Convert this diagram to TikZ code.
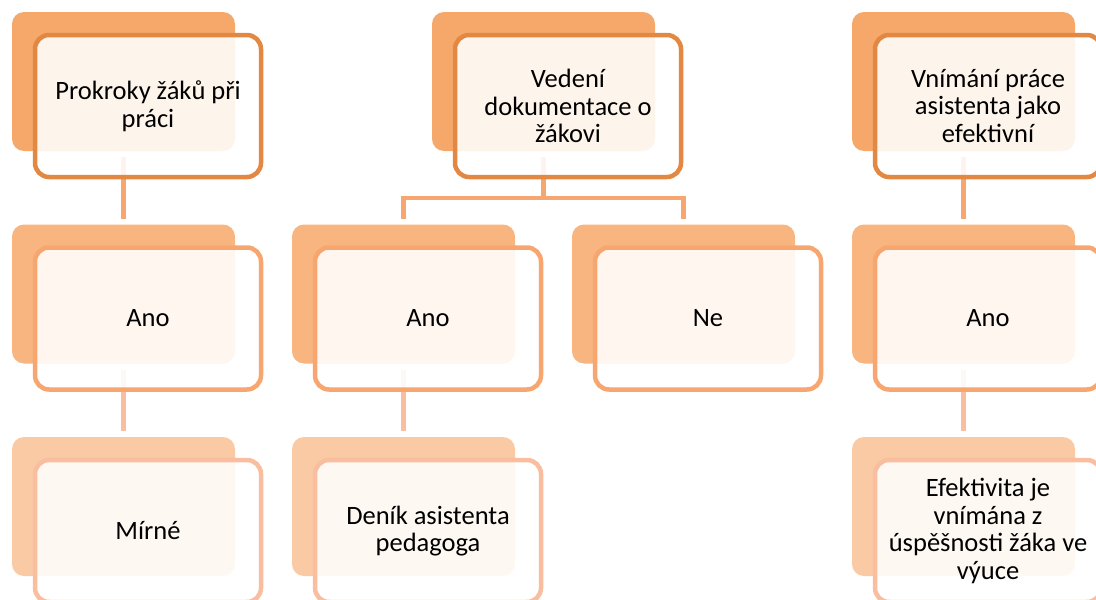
\documentclass[tikz,border=0pt]{standalone}
\usepackage{fontspec}
\setmainfont{Carlito}
\usetikzlibrary{positioning,calc}
\pgfdeclarelayer{background}
\pgfsetlayers{background,main}
\definecolor{oneBack}{RGB}{246,168,106}
\definecolor{oneLine}{RGB}{226,136,66}
\definecolor{twoBack}{RGB}{248,181,128}
\definecolor{twoLine}{RGB}{247,166,112}
\definecolor{threeBack}{RGB}{249,202,164}
\definecolor{threeLine}{RGB}{249,190,160}
\tikzset{
  backbox/.style={rectangle, rounded corners=12pt, minimum width=223pt, minimum height=139pt, anchor=north west, inner sep=0pt, outer sep=0pt},
  frontbox/.style={rectangle, rounded corners=14pt, minimum width=226pt, minimum height=142pt, anchor=north west, line width=4.5pt, outer sep=0pt, fill=white, fill opacity=0.88, text opacity=1, align=center, font=\fontsize{26.5pt}{27.6pt}\selectfont, inner sep=0pt},
  lone/.style={fill=oneBack},
  ltwo/.style={fill=twoBack},
  lthree/.style={fill=threeBack},
  conn/.style={line width=4.5pt, shorten <=6pt, shorten >=6pt},
}
\begin{document}
\begin{tikzpicture}[x=1pt,y=1pt]
\useasboundingbox (0,0) rectangle (1096,-600);
\clip (0,0) rectangle (1096,-600);
% column 1
\node[backbox, lone] (b11) at (12,-12) {};
\node[frontbox, draw=oneLine] (f11) at ([shift={(23pt,-23pt)}]b11.north west) {Prokroky žáků při\\práci};
\node[backbox, ltwo] (b21) at (12,-224.5) {};
\node[frontbox, draw=twoLine] (f21) at ([shift={(23pt,-23pt)}]b21.north west) {Ano};
\node[backbox, lthree] (b31) at (12,-437) {};
\node[frontbox, draw=threeLine] (f31) at ([shift={(23pt,-23pt)}]b31.north west) {Mírné};
% column 2
\node[backbox, lone] (b12) at (432,-12) {};
\node[frontbox, draw=oneLine] (f12) at ([shift={(23pt,-23pt)}]b12.north west) {Vedení\\dokumentace o\\žákovi};
\node[backbox, ltwo] (b22) at (292,-224.5) {};
\node[frontbox, draw=twoLine] (f22) at ([shift={(23pt,-23pt)}]b22.north west) {Ano};
\node[backbox, ltwo] (b23) at (572,-224.5) {};
\node[frontbox, draw=twoLine] (f23) at ([shift={(23pt,-23pt)}]b23.north west) {Ne};
\node[backbox, lthree] (b32) at (292,-437) {};
\node[frontbox, draw=threeLine] (f32) at ([shift={(23pt,-23pt)}]b32.north west) {Deník asistenta\\pedagoga};
% column 3
\node[backbox, lone] (b13) at (852,-12) {};
\node[frontbox, draw=oneLine] (f13) at ([shift={(23pt,-23pt)}]b13.north west) {Vnímání práce\\asistenta jako\\efektivní};
\node[backbox, ltwo] (b24) at (852,-224.5) {};
\node[frontbox, draw=twoLine] (f24) at ([shift={(23pt,-23pt)}]b24.north west) {Ano};
\node[backbox, lthree] (b33) at (852,-437) {};
\node[frontbox, draw=threeLine] (f33) at ([shift={(23pt,-23pt)}]b33.north west) {Efektivita je\\vnímána z\\úspěšnosti žáka ve\\výuce};
% connectors
\begin{pgfonlayer}{background}
\draw[conn, twoLine] (b11.south) -- (b21.north);
\draw[conn, threeLine] (b21.south) -- (b31.north);
\draw[conn, twoLine] (b12.south) -- ([yshift=-47pt]b12.south) -| (b22.north);
\draw[conn, twoLine] (b12.south) -- ([yshift=-47pt]b12.south) -| (b23.north);
\draw[conn, threeLine] (b22.south) -- (b32.north);
\draw[conn, twoLine] (b13.south) -- (b24.north);
\draw[conn, threeLine] (b24.south) -- (b33.north);
\end{pgfonlayer}
\end{tikzpicture}
\end{document}
